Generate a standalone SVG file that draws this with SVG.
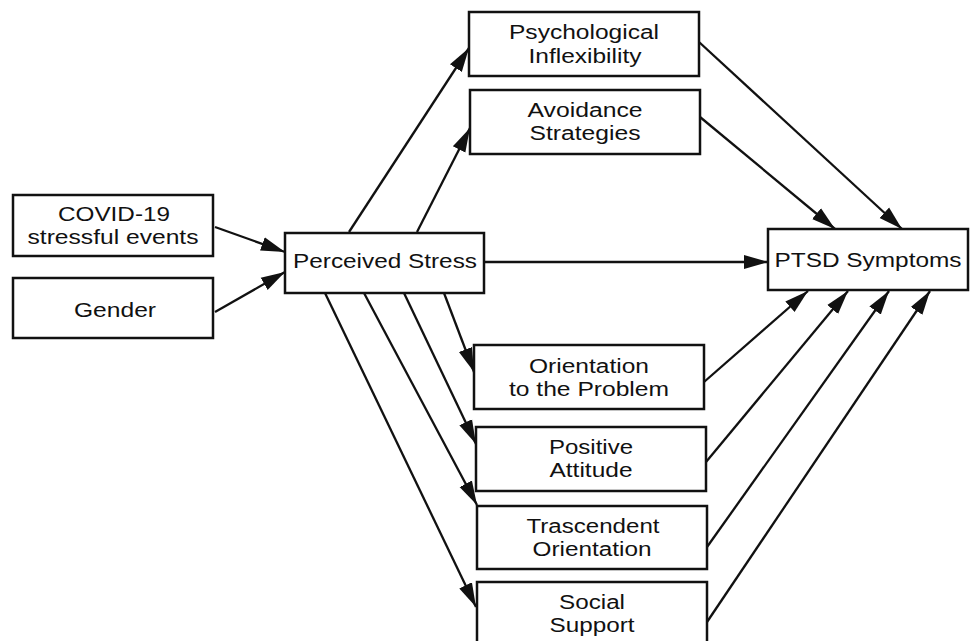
<svg xmlns="http://www.w3.org/2000/svg" width="971" height="641" viewBox="0 0 971 641">
<style>
.box{fill:#fff;stroke:#111;stroke-width:2.5}
.t{font-family:"Liberation Sans",Arial,sans-serif;font-size:20px;fill:#111;text-anchor:middle}
.c{stroke:#111;stroke-width:2.3;fill:none;marker-end:url(#ah)}
</style>
<defs>
<marker id="ah" markerUnits="userSpaceOnUse" markerWidth="26" markerHeight="18" viewBox="0 0 26 18" refX="24" refY="9" orient="auto">
<path d="M0,2 L24,9 L0,16 Z" fill="#111"/>
</marker>
</defs>
<rect width="971" height="641" fill="#fff"/>
<g id="connectors">
<line class="c" x1="215" y1="227" x2="285" y2="252"/>
<line class="c" x1="215" y1="312" x2="285" y2="272"/>
<line class="c" x1="349" y1="232" x2="469" y2="48"/>
<line class="c" x1="417" y1="232" x2="470" y2="128"/>
<line class="c" x1="484" y1="262" x2="768" y2="262"/>
<line class="c" x1="444" y1="293" x2="474" y2="372"/>
<line class="c" x1="404" y1="293" x2="476" y2="444"/>
<line class="c" x1="364" y1="293" x2="477" y2="505"/>
<line class="c" x1="325" y1="293" x2="476" y2="607"/>
<line class="c" x1="699" y1="42" x2="902" y2="229"/>
<line class="c" x1="700" y1="117" x2="835" y2="229"/>
<line class="c" x1="704" y1="382" x2="808" y2="291"/>
<line class="c" x1="706" y1="462" x2="848" y2="291"/>
<line class="c" x1="707" y1="547" x2="889" y2="291"/>
<line class="c" x1="707" y1="622" x2="930" y2="291"/>
</g>
<g id="covid">
<rect class="box" x="13" y="195" width="200" height="61"/>
<text class="t" x="114" y="221" textLength="112" lengthAdjust="spacingAndGlyphs">COVID-19</text>
<text class="t" x="113" y="244" textLength="171" lengthAdjust="spacingAndGlyphs">stressful events</text>
</g>
<g id="gender">
<rect class="box" x="13" y="278" width="200" height="60"/>
<text class="t" x="115" y="317" textLength="82" lengthAdjust="spacingAndGlyphs">Gender</text>
</g>
<g id="stress">
<rect class="box" x="285" y="233" width="199" height="60"/>
<text class="t" x="385" y="268" textLength="184" lengthAdjust="spacingAndGlyphs">Perceived Stress</text>
</g>
<g id="psych">
<rect class="box" x="469" y="12" width="230" height="64"/>
<text class="t" x="584" y="39" textLength="150" lengthAdjust="spacingAndGlyphs">Psychological</text>
<text class="t" x="585" y="63" textLength="113" lengthAdjust="spacingAndGlyphs">Inflexibility</text>
</g>
<g id="avoid">
<rect class="box" x="470" y="90" width="230" height="64"/>
<text class="t" x="585" y="117" textLength="115" lengthAdjust="spacingAndGlyphs">Avoidance</text>
<text class="t" x="585" y="140" textLength="111" lengthAdjust="spacingAndGlyphs">Strategies</text>
</g>
<g id="ptsd">
<rect class="box" x="768" y="229" width="200" height="61"/>
<text class="t" x="868" y="267" textLength="187" lengthAdjust="spacingAndGlyphs">PTSD Symptoms</text>
</g>
<g id="orient">
<rect class="box" x="474" y="345" width="230" height="64"/>
<text class="t" x="589" y="373" textLength="120" lengthAdjust="spacingAndGlyphs">Orientation</text>
<text class="t" x="589" y="396" textLength="160" lengthAdjust="spacingAndGlyphs">to the Problem</text>
</g>
<g id="positive">
<rect class="box" x="476" y="427" width="230" height="64"/>
<text class="t" x="591" y="454" textLength="84" lengthAdjust="spacingAndGlyphs">Positive</text>
<text class="t" x="591" y="477" textLength="83" lengthAdjust="spacingAndGlyphs">Attitude</text>
</g>
<g id="trascendent">
<rect class="box" x="477" y="506" width="230" height="63"/>
<text class="t" x="593" y="533" textLength="133" lengthAdjust="spacingAndGlyphs">Trascendent</text>
<text class="t" x="592" y="556" textLength="119" lengthAdjust="spacingAndGlyphs">Orientation</text>
</g>
<g id="social">
<rect class="box" x="477" y="582" width="230" height="70"/>
<text class="t" x="592" y="609" textLength="66" lengthAdjust="spacingAndGlyphs">Social</text>
<text class="t" x="592" y="632" textLength="85" lengthAdjust="spacingAndGlyphs">Support</text>
</g>
</svg>
